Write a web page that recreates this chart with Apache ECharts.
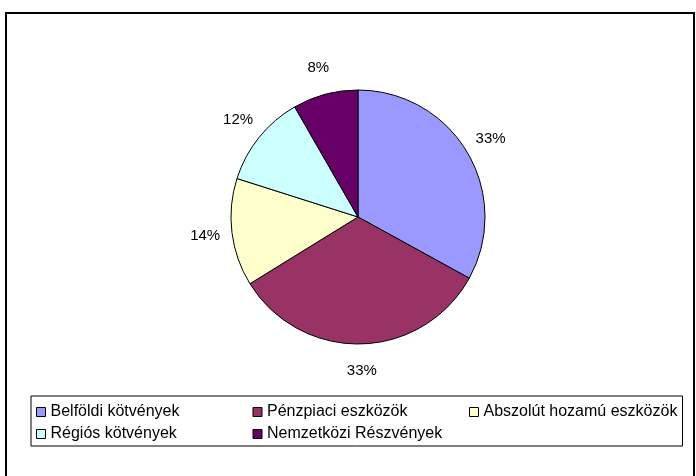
<!DOCTYPE html>
<html>
<head>
<meta charset="utf-8">
<script src="https://cdn.jsdelivr.net/npm/echarts@6/dist/echarts.min.js"></script>
<style>
html, body { margin: 0; padding: 0; background: #fff; }
#container { width: 696px; height: 476px; }
</style>
</head>
<body>
<div id="container"></div>
<script>
var dom = document.getElementById("container");
var myChart = echarts.init(dom);
option = null;

// adatok
var categories = ['Belföldi kötvények', 'Pénzpiaci eszközök', 'Abszolút hozamú eszközök', 'Régiós kötvények', 'Nemzetközi Részvények'];
var values = [33.0, 33.2, 13.7, 11.8, 8.3];
var colors = ['#9999FF', '#993366', '#FFFFCC', '#CCFFFF', '#660066'];

var showDatas = [];
for (var i = 0; i < categories.length; i++) {
    showDatas.push({ name: categories[i], value: values[i], itemStyle: { color: colors[i] } });
}
// label ring uses the same values, transparent
var labelDatas = [];
for (var j = 0; j < categories.length; j++) {
    labelDatas.push({ name: categories[j], value: values[j] });
}

var fontFamily = 'Liberation Sans, Arial, sans-serif';

option = {
    backgroundColor: '#ffffff',
    animation: false,
    graphic: [{
        type: 'rect',
        shape: { x: 6, y: 13, width: 688, height: 480 },
        style: { fill: 'none', stroke: '#000', lineWidth: 2 },
        silent: true
    }],
    legend: {
        data: categories,
        left: 31,
        top: 396,
        width: 650,
        orient: 'horizontal',
        icon: 'rect',
        itemWidth: 9,
        itemHeight: 9,
        itemGap: 6,
        padding: [8, 3, 4, 5],
        borderColor: '#000',
        borderWidth: 1,
        itemStyle: { borderColor: '#000', borderWidth: 1 },
        formatter: function (name) {
            return '{a|' + name + '}';
        },
        textStyle: {
            fontFamily: fontFamily,
            fontSize: 16,
            lineHeight: 16,
            color: '#000',
            rich: {
                a: { width: 196, fontSize: 16, fontFamily: fontFamily, lineHeight: 16 }
            }
        }
    },
    series: [
        {
            name: 'pie',
            type: 'pie',
            center: [358, 217],
            radius: [0, 127],
            startAngle: 90,
            clockwise: true,
            label: { show: false },
            labelLine: { show: false },
            itemStyle: { borderColor: '#000', borderWidth: 1 },
            emphasis: { disabled: true },
            data: showDatas
        },
        {
            name: 'labels',
            type: 'pie',
            center: [358, 217],
            radius: [127, 175],
            startAngle: 90,
            clockwise: true,
            silent: true,
            percentPrecision: 0,
            itemStyle: { color: 'transparent', borderWidth: 0 },
            label: {
                show: true,
                position: 'inside',
                formatter: '{d}%',
                fontFamily: fontFamily,
                fontSize: 15,
                color: '#000'
            },
            labelLine: { show: false },
            emphasis: { disabled: true },
            data: labelDatas
        }
    ]
};
if (option && typeof option === "object") {
    myChart.setOption(option, true);
}
</script>
</body>
</html>
